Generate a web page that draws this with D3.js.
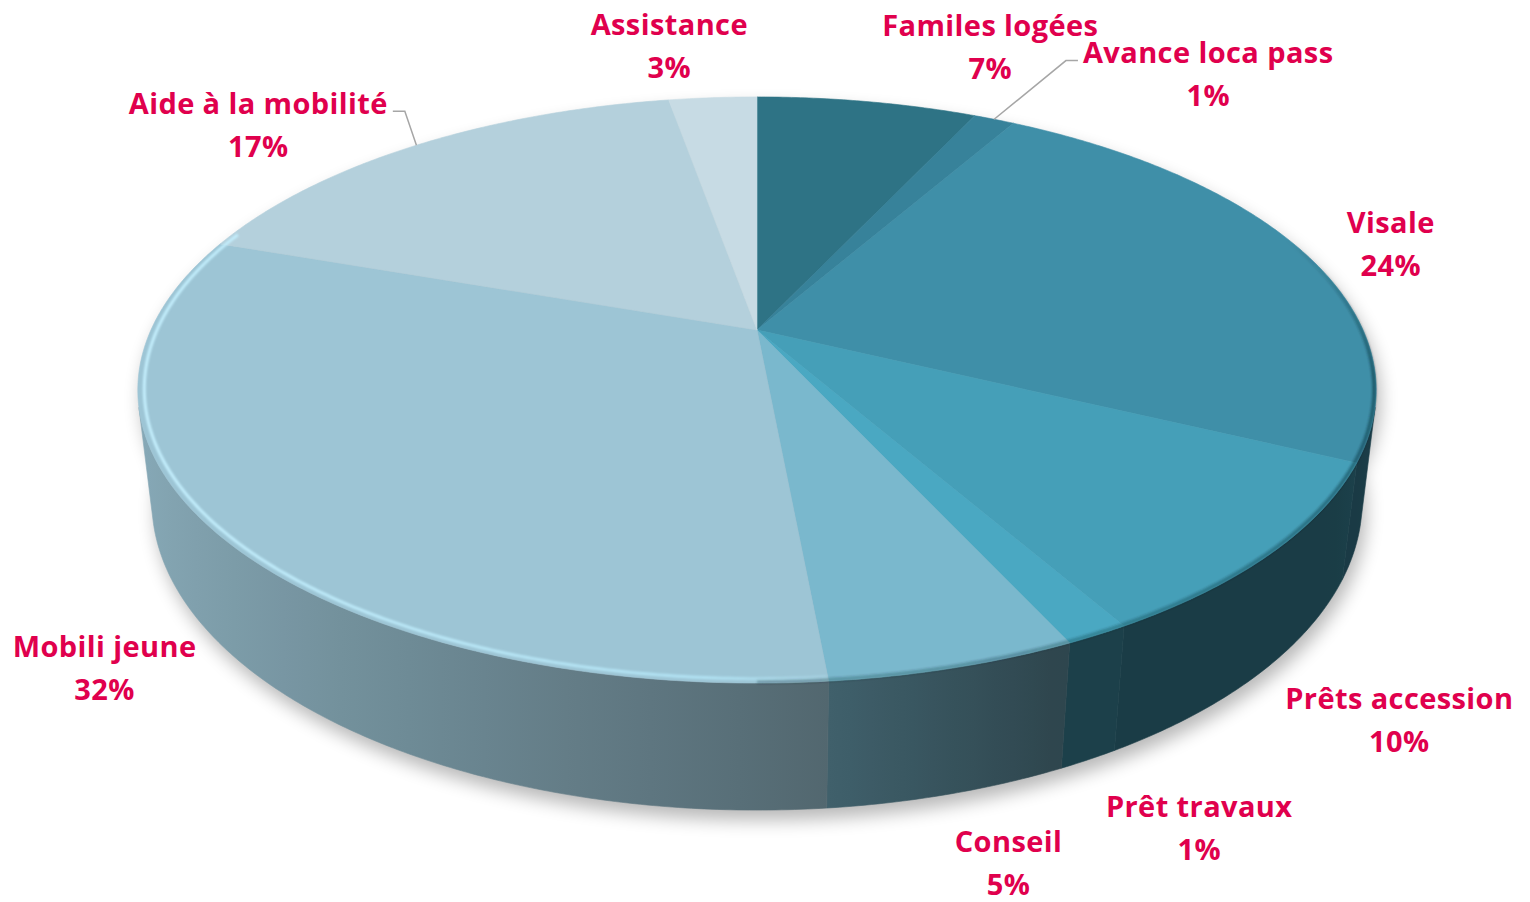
<!DOCTYPE html>
<html>
<head>
<meta charset="utf-8">
<script src="https://cdn.jsdelivr.net/npm/d3@7"></script>
<style>
    html, body { margin: 0; padding: 0; background: #fff; }
    svg { display: block; }
</style>
</head>
<body>
<div id="chart"></div>
<script>
// données (parts en %)
const categories = ['Familes logées', 'Avance loca pass', 'Visale', 'Prêts accession', 'Prêt travaux',
                    'Conseil', 'Mobili jeune', 'Aide à la mobilité', 'Assistance'];
const shares = [7.0, 1.3, 23.8, 9.6, 1.4, 5.4, 31.8, 16.9, 2.8];
const sliceColors = ['#2E7385', '#37829A', '#3F8FA8', '#459FB8', '#4AA8C2',
                     '#7AB8CD', '#9DC5D5', '#B4D0DC', '#C7DBE4'];
const leaderLabels = ['Avance loca pass', 'Aide à la mobilité'];

// placement des étiquettes : rayon (unités du disque) et décalage d'angle (degrés)
const labelRadius = [1.36, 1.447, 1.162, 1.36, 1.407, 1.40, 1.295, 1.294, 1.289];
const labelNudge = [8.3, 11.7, 1.0, 9.8, 5.0, 2.8, -10.0, -7.9, -3.1];

const WIDTH = 1530, HEIGHT = 902;
const TEXT_COLOR = '#E0004D';

// caméra en perspective
const view = {
    cx: 757, cy: 330,
    focal: 2623,
    dist: 4.328,
    tilt: 27.6 * Math.PI / 180,
    thickness: 0.208
};
const sinT = Math.sin(view.tilt), cosT = Math.cos(view.tilt);
const camZ = view.dist * cosT;

// point (u, v) du plan du disque, à la hauteur y (0 = dessus, -épaisseur = dessous)
function project(u, v, y) {
    const depth = view.dist - y * sinT - v * cosT;
    return [
        view.cx + view.focal * u / depth,
        view.cy + view.focal * (v * sinT - y * cosT) / depth
    ];
}

// angle mesuré depuis midi, sens horaire
function rim(a, r, y) {
    return project(r * Math.sin(a), -r * Math.cos(a), y);
}

function arcPoints(a0, a1, r, y) {
    const n = Math.max(2, Math.ceil(Math.abs(a1 - a0) / (Math.PI / 360)));
    return d3.range(n + 1).map(i => rim(a0 + (a1 - a0) * i / n, r, y));
}

const line = d3.line();

const pie = d3.pie().sort(null).value(d => d.share).startAngle(0).endAngle(2 * Math.PI);
const slices = pie(categories.map((c, i) => ({ name: c, share: shares[i], color: sliceColors[i], idx: i })));

// partie visible de la paroi extérieure
const visStart = Math.acos(-1 / camZ);
const visEnd = 2 * Math.PI - visStart;

// éclairage de la paroi selon la position horizontale
const wallShade = d3.scaleLinear()
    .domain([-1, 0.08, 0.4, 0.85, 1])
    .range([0.87, 0.53, 0.38, 0.38, 0.46])
    .clamp(true);

function shadeColor(color, f) {
    const c = d3.rgb(color);
    return d3.rgb(c.r * f, c.g * f, c.b * f).formatHex();
}

const svg = d3.select('#chart')
    .append('svg')
    .attr('width', WIDTH)
    .attr('height', HEIGHT);

const defs = svg.append('defs');

defs.append('filter')
    .attr('id', 'soft-shadow')
    .attr('x', '-10%').attr('y', '-10%')
    .attr('width', '120%').attr('height', '130%')
    .append('feGaussianBlur')
    .attr('stdDeviation', 9);

defs.append('filter')
    .attr('id', 'rim-blur')
    .attr('x', '-5%').attr('y', '-5%')
    .attr('width', '110%').attr('height', '110%')
    .append('feGaussianBlur')
    .attr('stdDeviation', 1.2);

// ombre portée
const shadowG = svg.append('g')
    .attr('transform', 'translate(4,10)')
    .attr('filter', 'url(#soft-shadow)')
    .attr('opacity', 0.28);

shadowG.append('path')
    .attr('d', line(arcPoints(0, 2 * Math.PI, 1.0, -view.thickness)) + 'Z')
    .attr('fill', '#000');
shadowG.append('path')
    .attr('d', line(arcPoints(0, 2 * Math.PI, 1.0, 0)) + 'Z')
    .attr('fill', '#000');

// parois
const wallG = svg.append('g').attr('class', 'walls');

slices.forEach((s, i) => {
    const a0 = Math.max(s.startAngle, visStart);
    const a1 = Math.min(s.endAngle, visEnd);
    if (a1 <= a0) return;

    const top = arcPoints(a0, a1, 1, 0);
    const bottom = arcPoints(a0, a1, 1, -view.thickness).reverse();

    const xs = top.map(p => p[0]);
    const xMin = d3.min(xs), xMax = d3.max(xs);
    const gradId = `wall-grad-${i}`;
    const grad = defs.append('linearGradient')
        .attr('id', gradId)
        .attr('gradientUnits', 'userSpaceOnUse')
        .attr('x1', xMin).attr('x2', xMax)
        .attr('y1', 0).attr('y2', 0);

    const nStops = 12;
    const stops = d3.range(nStops + 1).map(k => {
        const a = a0 + (a1 - a0) * k / nStops;
        const x = rim(a, 1, 0)[0];
        return { off: xMax > xMin ? (x - xMin) / (xMax - xMin) : 0, col: shadeColor(s.data.color, wallShade(Math.sin(a))) };
    }).sort((p, q) => p.off - q.off);

    grad.selectAll('stop')
        .data(stops)
        .enter()
        .append('stop')
        .attr('offset', d => d.off)
        .attr('stop-color', d => d.col);

    wallG.append('path')
        .attr('d', line(top.concat(bottom)) + 'Z')
        .attr('fill', `url(#${gradId})`)
        .attr('stroke', `url(#${gradId})`)
        .attr('stroke-width', 0.6);
});

// dessus des parts
const topG = svg.append('g').attr('class', 'tops');

topG.selectAll('path.slice')
    .data(slices)
    .enter()
    .append('path')
    .attr('class', 'slice')
    .attr('d', s => line([project(0, 0, 0)].concat(arcPoints(s.startAngle, s.endAngle, 1, 0))) + 'Z')
    .attr('fill', s => s.data.color)
    .attr('stroke', s => s.data.color)
    .attr('stroke-width', 0.6);

// biseau : ombre sur le bord droit, reflet sur le bord gauche
const darkRim = defs.append('linearGradient')
    .attr('id', 'dark-rim')
    .attr('gradientUnits', 'userSpaceOnUse')
    .attr('x1', 0).attr('x2', 0).attr('y1', 240).attr('y2', 690);
darkRim.append('stop').attr('offset', 0).attr('stop-color', '#0c2a33').attr('stop-opacity', 0);
darkRim.append('stop').attr('offset', 0.3).attr('stop-color', '#0c2a33').attr('stop-opacity', 0.5);
darkRim.append('stop').attr('offset', 1).attr('stop-color', '#0c2a33').attr('stop-opacity', 0.25);

svg.append('path')
    .attr('d', line(arcPoints(Math.PI * 0.36, Math.PI * 1.0, 0.997, 0)))
    .attr('fill', 'none')
    .attr('stroke', 'url(#dark-rim)')
    .attr('stroke-width', 4)
    .attr('filter', 'url(#rim-blur)');

const lightRim = defs.append('linearGradient')
    .attr('id', 'light-rim')
    .attr('gradientUnits', 'userSpaceOnUse')
    .attr('x1', 140).attr('x2', 900).attr('y1', 0).attr('y2', 0);
lightRim.append('stop').attr('offset', 0).attr('stop-color', '#c6f1ff').attr('stop-opacity', 0.95);
lightRim.append('stop').attr('offset', 0.75).attr('stop-color', '#b6e9fa').attr('stop-opacity', 0.8);
lightRim.append('stop').attr('offset', 1).attr('stop-color', '#b6e9fa').attr('stop-opacity', 0);

svg.append('path')
    .attr('d', line(arcPoints(Math.PI * 0.97, Math.PI * 1.62, 0.99, 0)))
    .attr('fill', 'none')
    .attr('stroke', 'url(#light-rim)')
    .attr('stroke-width', 3)
    .attr('filter', 'url(#rim-blur)');

// étiquettes
const labelG = svg.append('g').attr('class', 'labels');
const LINE_GAP = 43;

slices.forEach((s, i) => {
    const mid = (s.startAngle + s.endAngle) / 2;
    const a = mid + labelNudge[i] * Math.PI / 180;
    const [lx, ly0] = rim(a, labelRadius[i], 0);
    const ly = ly0 - 1;

    const text = labelG.append('text')
        .attr('text-anchor', 'middle')
        .attr('font-family', "'Open Sans', 'DejaVu Sans', sans-serif")
        .attr('font-weight', 700)
        .attr('font-size', 29)
        .attr('letter-spacing', 0.4)
        .attr('fill', TEXT_COLOR);

    text.append('tspan')
        .attr('x', lx)
        .attr('y', ly - LINE_GAP / 2)
        .attr('dominant-baseline', 'central')
        .text(s.data.name);

    text.append('tspan')
        .attr('x', lx)
        .attr('y', ly + LINE_GAP / 2)
        .attr('dominant-baseline', 'central')
        .text(Math.round(s.data.share) + '%');

    if (leaderLabels.includes(s.data.name)) {
        const w = text.select('tspan').node().getComputedTextLength();
        const anchor = rim(mid, 1, 0);
        const side = anchor[0] > lx ? 1 : -1;
        const ey = ly - LINE_GAP / 2 + 9;
        const ex = lx + side * (w / 2 + 5);
        const bx = ex + side * 12;
        svg.append('path')
            .attr('d', line([[ex, ey], [bx, ey], anchor]))
            .attr('fill', 'none')
            .attr('stroke', '#A6A6A6')
            .attr('stroke-width', 1.5);
    }
});
</script>
</body>
</html>
